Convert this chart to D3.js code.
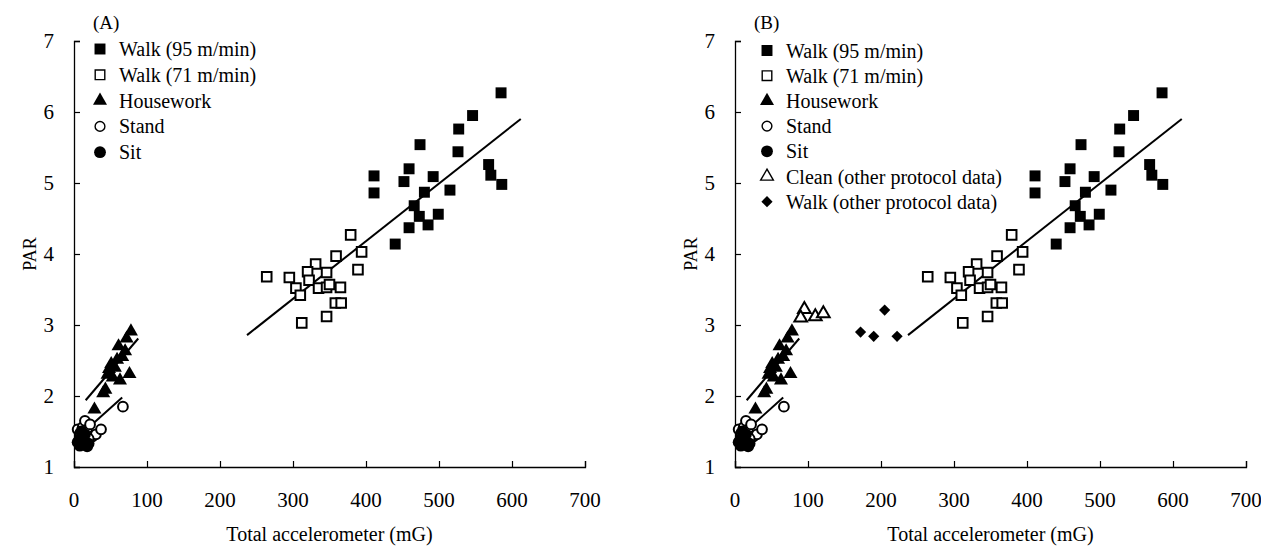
<!DOCTYPE html>
<html>
<head>
<meta charset="utf-8">
<script src="https://cdn.jsdelivr.net/npm/d3@7"></script>
</head>
<body style="margin:0;background:#fff">
<svg id="chart" width="1261" height="547" style="display:block"></svg>
<script>
// ---- data (Total accelerometer mG, PAR) ----
const walk95 = [[585,6.27],[546,5.95],[527,5.76],[474,5.54],[526,5.44],[459,5.20],[568,5.26],[571,5.11],[586,4.98],[492,5.09],[452,5.02],[480,4.87],[515,4.90],[466,4.68],[473,4.53],[499,4.56],[459,4.37],[485,4.41],[440,4.14],[411,5.10],[411,4.86]];
const walk71 = [[379,4.27],[359,3.97],[394,4.03],[331,3.86],[264,3.68],[295,3.67],[320,3.75],[346,3.74],[389,3.78],[322,3.63],[304,3.52],[335,3.52],[346,3.53],[365,3.53],[310,3.42],[358,3.31],[366,3.31],[346,3.12],[312,3.03],[350,3.57]];
const housework = [[28,1.81],[40,2.04],[43,2.09],[46,2.30],[48,2.38],[51,2.45],[53,2.26],[56,2.40],[59,2.51],[61,2.70],[63,2.22],[66,2.55],[70,2.63],[72,2.81],[78,2.91],[76,2.31]];
const stand = [[5,1.53],[8,1.47],[12,1.56],[15,1.65],[18,1.50],[22,1.60],[25,1.43],[30,1.46],[37,1.53],[67,1.85],[20,1.40]];
const sit = [[5,1.35],[8,1.30],[10,1.42],[13,1.33],[15,1.46],[18,1.29],[20,1.33],[10,1.50]];
const cleanOther = [[95,3.22],[90,3.10],[110,3.12],[121,3.16]];
const walkOther = [[172,2.90],[190,2.84],[205,3.21],[222,2.84]];
// fitted lines: [xStart, xEnd, intercept, slope]
const fitWalk = [237, 612, 0.933, 0.00812];
const fitHousework = [16, 88, 1.747, 0.01208];
const fitStand = [22, 66, 1.370, 0.00922];
const xTicks = [0,100,200,300,400,500,600,700];
const yTicks = [1,2,3,4,5,6,7];
const legendA = ["Walk (95 m/min)","Walk (71 m/min)","Housework","Stand","Sit"];
const legendB = ["Walk (95 m/min)","Walk (71 m/min)","Housework","Stand","Sit","Clean (other protocol data)","Walk (other protocol data)"];

const FONT = '"Liberation Serif", "Times New Roman", Tinos, serif';
const svg = d3.select("#chart");

const markerDefs = {
  "Walk (95 m/min)": {type: d3.symbolSquare, size: 120, fill: "#000", stroke: "none"},
  "Walk (71 m/min)": {type: d3.symbolSquare, size: 92, fill: "#fff", stroke: "#000"},
  "Housework": {type: d3.symbolTriangle, size: 85, fill: "#000", stroke: "none"},
  "Stand": {type: d3.symbolCircle, size: 75, fill: "#fff", stroke: "#000"},
  "Sit": {type: d3.symbolCircle, size: 110, fill: "#000", stroke: "none"},
  "Clean (other protocol data)": {type: d3.symbolTriangle, size: 70, fill: "#fff", stroke: "#000"},
  "Walk (other protocol data)": {type: d3.symbolDiamond2, size: 80, fill: "#000", stroke: "none"}
};

function txt(g) {
  return g.append("text").style("font-family", FONT).attr("fill", "#000");
}

function drawPanel(opt) {
  const g = svg.append("g");
  const x = d3.scaleLinear().domain([0,700]).range([opt.x0, opt.x0 + 511]);
  const y = d3.scaleLinear().domain([1,7]).range([467, 41]);

  const xAxis = d3.axisBottom(x).tickValues(xTicks).tickSize(-6).tickFormat(d => "");
  const yAxis = d3.axisLeft(y).tickValues(yTicks).tickSize(-6).tickFormat(d => "");
  const gx = g.append("g").attr("transform", `translate(0,467)`).call(xAxis);
  const gy = g.append("g").attr("transform", `translate(${opt.x0},0)`).call(yAxis);
  [gx, gy].forEach(a => {
    a.select(".domain").attr("stroke", "#000").attr("stroke-width", 1.3);
    a.selectAll(".tick line").attr("stroke", "#000").attr("stroke-width", 1.2);
  });
  xTicks.forEach(d => txt(g).attr("x", x(d)).attr("y", 507).attr("text-anchor", "middle")
    .attr("font-size", 21).text(d));
  yTicks.forEach(d => txt(g).attr("x", opt.x0 - 20).attr("y", y(d) + 7).attr("text-anchor", "end")
    .attr("font-size", 21).text(d));
  txt(g).attr("x", (x(0)+x(700))/2).attr("y", 541).attr("text-anchor", "middle")
    .attr("font-size", 20).text("Total accelerometer (mG)");
  txt(g).attr("transform", `translate(${opt.x0 - 38},${254}) rotate(-90)`)
    .attr("text-anchor", "middle").attr("font-size", 18).text("PAR");
  txt(g).attr("x", opt.x0 + 19).attr("y", 29).attr("font-size", 19).text(opt.label);

  const line = d3.line().x(d => x(d[0])).y(d => y(d[1]));
  [fitWalk, fitHousework, fitStand].forEach(f => {
    const pts = [[f[0], f[2] + f[3]*f[0]], [f[1], f[2] + f[3]*f[1]]];
    g.append("path").attr("d", line(pts)).attr("stroke", "#000").attr("stroke-width", 2).attr("fill", "none");
  });

  function plot(data, name) {
    const m = markerDefs[name];
    const sym = d3.symbol().type(m.type).size(m.size);
    g.append("g").selectAll("path").data(data).enter().append("path")
      .attr("d", sym)
      .attr("transform", d => `translate(${x(d[0])},${y(d[1])})`)
      .attr("fill", m.fill).attr("stroke", m.stroke).attr("stroke-width", 2);
  }
  plot(walk71, "Walk (71 m/min)");
  plot(stand, "Stand");
  plot(sit, "Sit");
  plot(housework, "Housework");
  plot(walk95, "Walk (95 m/min)");
  if (opt.extra) {
    plot(cleanOther, "Clean (other protocol data)");
    plot(walkOther, "Walk (other protocol data)");
  }

  opt.legend.forEach((name, i) => {
    const cy = opt.legY + i * opt.legStep;
    const m = markerDefs[name];
    g.append("path").attr("d", d3.symbol().type(m.type).size(m.size)())
      .attr("transform", `translate(${opt.legX},${cy})`)
      .attr("fill", m.fill).attr("stroke", m.stroke).attr("stroke-width", 1.4);
    txt(g).attr("x", opt.legX + 19).attr("y", cy + 7).attr("font-size", 20).text(name);
  });
}

drawPanel({x0: 74, label: "(A)", legend: legendA, legX: 100, legY: 49, legStep: 25.8, extra: false});
drawPanel({x0: 735, label: "(B)", legend: legendB, legX: 767, legY: 50.5, legStep: 25.2, extra: true});
</script>
</body>
</html>
